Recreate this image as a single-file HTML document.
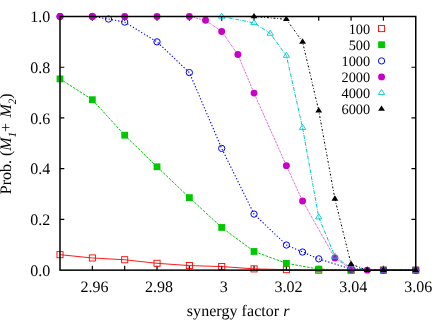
<!DOCTYPE html>
<html><head><meta charset="utf-8"><title>plot</title>
<style>
html,body{margin:0;padding:0;background:#fff;}
body{width:436px;height:322px;overflow:hidden;}
svg{display:block;will-change:transform;}
text{text-rendering:geometricPrecision;font-family:"Liberation Serif","Times New Roman",serif;fill:#000;}
</style></head><body>
<svg width="436" height="322" viewBox="0 0 436 322">
<rect width="436" height="322" fill="#fff"/>

<path d="M92.34 270.15v-4.3M92.34 16.5v4.3M124.68 270.15v-4.3M124.68 16.5v4.3M157.02 270.15v-4.3M157.02 16.5v4.3M189.36 270.15v-4.3M189.36 16.5v4.3M221.70 270.15v-4.3M221.70 16.5v4.3M254.05 270.15v-4.3M254.05 16.5v4.3M286.39 270.15v-4.3M286.39 16.5v4.3M318.73 270.15v-4.3M318.73 16.5v4.3M351.07 270.15v-4.3M351.07 16.5v4.3M383.41 270.15v-4.3M383.41 16.5v4.3M60.0 219.42h4.3M415.75 219.42h-4.3M60.0 168.69h4.3M415.75 168.69h-4.3M60.0 117.96h4.3M415.75 117.96h-4.3M60.0 67.23h4.3M415.75 67.23h-4.3" fill="none" stroke="#000" stroke-width="1.2"/>
<path d="M60.00 254.68 L92.34 257.97 L124.68 259.75 L157.02 263.30 L189.36 265.58 L221.70 266.55 L254.05 268.88 L286.39 269.64 L318.73 270.15 L351.07 270.15 L383.41 270.15 L415.75 270.15" fill="none" stroke="#ff0000" stroke-width="0.9"/>
<path d="M60.00 78.90 L92.34 99.70 L124.68 135.21 L157.02 166.79 L189.36 197.61 L221.70 227.46 L254.05 251.46 L286.39 263.30 L318.73 269.14 L351.07 270.15 L383.41 270.15 L415.75 270.15" fill="none" stroke="#00c800" stroke-width="1.0" stroke-dasharray="2.6,1.3"/>
<path d="M60.00 16.50 L92.34 16.50 L108.51 19.04 L124.68 22.08 L157.02 41.86 L189.36 72.56 L221.70 148.40 L254.05 214.09 L286.39 245.04 L302.56 252.01 L318.73 258.84 L351.07 269.14 L383.41 270.15 L415.75 270.15" fill="none" stroke="#0000ff" stroke-width="1.1" stroke-dasharray="1.3,1.95"/>
<path d="M60.00 16.50 L92.34 16.50 L124.68 16.50 L157.02 16.50 L189.36 16.50 L205.53 20.30 L221.70 31.47 L237.87 54.55 L254.05 93.10 L286.39 165.65 L302.56 201.03 L334.90 257.97 L351.07 269.14 L367.24 270.15 L383.41 270.15 L415.75 270.15" fill="none" stroke="#c800c8" stroke-width="1.0" stroke-dasharray="0.65,0.95"/>
<path d="M221.70 16.50 L254.05 22.84 L270.22 33.49 L286.39 55.56 L302.56 127.67 L318.73 217.21 L334.90 256.45 L351.07 268.12 L383.41 270.15 L415.75 270.15" fill="none" stroke="#00c8c8" stroke-width="1.0" stroke-dasharray="3.9,1.15,0.8,1.15"/>
<path d="M254.05 16.50 L286.39 19.29 L302.56 41.86 L318.73 110.60 L334.90 198.87 L351.07 264.14 L367.24 270.15 L383.41 270.15 L415.75 270.15" fill="none" stroke="#000000" stroke-width="1.0" stroke-dasharray="1.9,1.9,0.8,1.9"/>
<g><rect x="56.95" y="251.63" width="6.10" height="6.10" fill="none" stroke="#ff0000" stroke-width="0.9"/><rect x="89.29" y="254.92" width="6.10" height="6.10" fill="none" stroke="#ff0000" stroke-width="0.9"/><rect x="121.63" y="256.70" width="6.10" height="6.10" fill="none" stroke="#ff0000" stroke-width="0.9"/><rect x="153.97" y="260.25" width="6.10" height="6.10" fill="none" stroke="#ff0000" stroke-width="0.9"/><rect x="186.31" y="262.53" width="6.10" height="6.10" fill="none" stroke="#ff0000" stroke-width="0.9"/><rect x="218.65" y="263.50" width="6.10" height="6.10" fill="none" stroke="#ff0000" stroke-width="0.9"/><rect x="251.00" y="265.83" width="6.10" height="6.10" fill="none" stroke="#ff0000" stroke-width="0.9"/><rect x="283.34" y="266.59" width="6.10" height="6.10" fill="none" stroke="#ff0000" stroke-width="0.9"/><rect x="315.68" y="267.10" width="6.10" height="6.10" fill="none" stroke="#ff0000" stroke-width="0.9"/><rect x="348.02" y="267.10" width="6.10" height="6.10" fill="none" stroke="#ff0000" stroke-width="0.9"/><rect x="380.36" y="267.10" width="6.10" height="6.10" fill="none" stroke="#ff0000" stroke-width="0.9"/><rect x="412.70" y="267.10" width="6.10" height="6.10" fill="none" stroke="#ff0000" stroke-width="0.9"/></g>
<g><rect x="56.60" y="75.50" width="6.80" height="6.80" fill="#00c800"/><rect x="88.94" y="96.30" width="6.80" height="6.80" fill="#00c800"/><rect x="121.28" y="131.81" width="6.80" height="6.80" fill="#00c800"/><rect x="153.62" y="163.39" width="6.80" height="6.80" fill="#00c800"/><rect x="185.96" y="194.21" width="6.80" height="6.80" fill="#00c800"/><rect x="218.30" y="224.06" width="6.80" height="6.80" fill="#00c800"/><rect x="250.65" y="248.06" width="6.80" height="6.80" fill="#00c800"/><rect x="282.99" y="259.90" width="6.80" height="6.80" fill="#00c800"/><rect x="315.33" y="265.74" width="6.80" height="6.80" fill="#00c800"/><rect x="347.67" y="266.75" width="6.80" height="6.80" fill="#00c800"/><rect x="380.01" y="266.75" width="6.80" height="6.80" fill="#00c800"/><rect x="412.35" y="266.75" width="6.80" height="6.80" fill="#00c800"/></g>
<g><circle cx="60.00" cy="16.50" r="3.15" fill="none" stroke="#0000ff" stroke-width="1"/><circle cx="92.34" cy="16.50" r="3.15" fill="none" stroke="#0000ff" stroke-width="1"/><circle cx="108.51" cy="19.04" r="3.15" fill="none" stroke="#0000ff" stroke-width="1"/><circle cx="124.68" cy="22.08" r="3.15" fill="none" stroke="#0000ff" stroke-width="1"/><circle cx="157.02" cy="41.86" r="3.15" fill="none" stroke="#0000ff" stroke-width="1"/><circle cx="189.36" cy="72.56" r="3.15" fill="none" stroke="#0000ff" stroke-width="1"/><circle cx="221.70" cy="148.40" r="3.15" fill="none" stroke="#0000ff" stroke-width="1"/><circle cx="254.05" cy="214.09" r="3.15" fill="none" stroke="#0000ff" stroke-width="1"/><circle cx="286.39" cy="245.04" r="3.15" fill="none" stroke="#0000ff" stroke-width="1"/><circle cx="302.56" cy="252.01" r="3.15" fill="none" stroke="#0000ff" stroke-width="1"/><circle cx="318.73" cy="258.84" r="3.15" fill="none" stroke="#0000ff" stroke-width="1"/><circle cx="351.07" cy="269.14" r="3.15" fill="none" stroke="#0000ff" stroke-width="1"/><circle cx="383.41" cy="270.15" r="3.15" fill="none" stroke="#0000ff" stroke-width="1"/><circle cx="415.75" cy="270.15" r="3.15" fill="none" stroke="#0000ff" stroke-width="1"/></g>
<g><circle cx="60.00" cy="16.50" r="3.45" fill="#c800c8"/><circle cx="92.34" cy="16.50" r="3.45" fill="#c800c8"/><circle cx="124.68" cy="16.50" r="3.45" fill="#c800c8"/><circle cx="157.02" cy="16.50" r="3.45" fill="#c800c8"/><circle cx="189.36" cy="16.50" r="3.45" fill="#c800c8"/><circle cx="205.53" cy="20.30" r="3.45" fill="#c800c8"/><circle cx="221.70" cy="31.47" r="3.45" fill="#c800c8"/><circle cx="237.87" cy="54.55" r="3.45" fill="#c800c8"/><circle cx="254.05" cy="93.10" r="3.45" fill="#c800c8"/><circle cx="286.39" cy="165.65" r="3.45" fill="#c800c8"/><circle cx="302.56" cy="201.03" r="3.45" fill="#c800c8"/><circle cx="334.90" cy="257.97" r="3.45" fill="#c800c8"/><circle cx="351.07" cy="269.14" r="3.45" fill="#c800c8"/><circle cx="367.24" cy="270.15" r="3.45" fill="#c800c8"/><circle cx="383.41" cy="270.15" r="3.45" fill="#c800c8"/><circle cx="415.75" cy="270.15" r="3.45" fill="#c800c8"/></g>
<g><path d="M221.70 13.20L218.50 18.25L224.90 18.25Z" fill="none" stroke="#00c8c8" stroke-width="0.9"/><path d="M254.05 19.54L250.85 24.59L257.25 24.59Z" fill="none" stroke="#00c8c8" stroke-width="0.9"/><path d="M270.22 30.19L267.02 35.24L273.42 35.24Z" fill="none" stroke="#00c8c8" stroke-width="0.9"/><path d="M286.39 52.26L283.19 57.31L289.59 57.31Z" fill="none" stroke="#00c8c8" stroke-width="0.9"/><path d="M302.56 124.37L299.36 129.42L305.76 129.42Z" fill="none" stroke="#00c8c8" stroke-width="0.9"/><path d="M318.73 213.91L315.53 218.96L321.93 218.96Z" fill="none" stroke="#00c8c8" stroke-width="0.9"/><path d="M334.90 253.15L331.70 258.20L338.10 258.20Z" fill="none" stroke="#00c8c8" stroke-width="0.9"/><path d="M351.07 264.82L347.87 269.87L354.27 269.87Z" fill="none" stroke="#00c8c8" stroke-width="0.9"/><path d="M383.41 266.85L380.21 271.90L386.61 271.90Z" fill="none" stroke="#00c8c8" stroke-width="0.9"/><path d="M415.75 266.85L412.55 271.90L418.95 271.90Z" fill="none" stroke="#00c8c8" stroke-width="0.9"/></g>
<g><path d="M254.05 12.90L250.65 18.30L257.45 18.30Z" fill="#000000"/><path d="M286.39 15.69L282.99 21.09L289.79 21.09Z" fill="#000000"/><path d="M302.56 38.26L299.16 43.66L305.96 43.66Z" fill="#000000"/><path d="M318.73 107.00L315.33 112.40L322.13 112.40Z" fill="#000000"/><path d="M334.90 195.27L331.50 200.67L338.30 200.67Z" fill="#000000"/><path d="M351.07 260.54L347.67 265.94L354.47 265.94Z" fill="#000000"/><path d="M367.24 266.55L363.84 271.95L370.64 271.95Z" fill="#000000"/><path d="M383.41 266.55L380.01 271.95L386.81 271.95Z" fill="#000000"/><path d="M415.75 266.55L412.35 271.95L419.15 271.95Z" fill="#000000"/></g>
<rect x="60.0" y="16.5" width="355.75" height="253.64999999999998" fill="none" stroke="#000" stroke-width="1.5"/>
<text x="94.44" y="292.2" font-size="16" text-anchor="middle">2.96</text>
<text x="159.12" y="292.2" font-size="16" text-anchor="middle">2.98</text>
<text x="223.80" y="292.2" font-size="16" text-anchor="middle">3</text>
<text x="288.49" y="292.2" font-size="16" text-anchor="middle">3.02</text>
<text x="353.17" y="292.2" font-size="16" text-anchor="middle">3.04</text>
<text x="418.25" y="292.2" font-size="16" text-anchor="middle">3.06</text>
<text x="50.3" y="275.95" font-size="16" text-anchor="end">0.0</text>
<text x="50.3" y="225.22" font-size="16" text-anchor="end">0.2</text>
<text x="50.3" y="174.49" font-size="16" text-anchor="end">0.4</text>
<text x="50.3" y="123.76" font-size="16" text-anchor="end">0.6</text>
<text x="50.3" y="73.03" font-size="16" text-anchor="end">0.8</text>
<text x="50.3" y="22.30" font-size="16" text-anchor="end">1.0</text>
<text x="238.2" y="316.0" font-size="16" letter-spacing="0.05" text-anchor="middle">synergy factor <tspan font-style="italic">r</tspan></text>
<text transform="translate(11.4 143.8) rotate(-90)" font-size="16" text-anchor="middle">Prob. (<tspan font-style="italic">M</tspan><tspan font-style="italic" font-size="11.2" dy="4.6">1</tspan><tspan font-style="italic" dy="-4.6" dx="-1.2">+</tspan><tspan font-style="italic" dx="0.6"> M</tspan><tspan font-style="italic" font-size="11.2" dy="4.6">2</tspan><tspan dy="-4.6">)</tspan></text>
<text x="370.2" y="34.25" font-size="14.35" text-anchor="end">100</text>
<rect x="378.50" y="25.55" width="6.10" height="6.10" fill="none" stroke="#ff0000" stroke-width="0.9"/>
<text x="370.2" y="50.27" font-size="14.35" text-anchor="end">500</text>
<rect x="378.15" y="41.30" width="6.80" height="6.80" fill="#00c800"/>
<text x="370.2" y="66.29" font-size="14.35" text-anchor="end">1000</text>
<circle cx="381.55" cy="60.90" r="3.15" fill="none" stroke="#0000ff" stroke-width="1"/>
<text x="370.2" y="82.31" font-size="14.35" text-anchor="end">2000</text>
<circle cx="381.55" cy="76.90" r="3.45" fill="#c800c8"/>
<text x="370.2" y="98.33" font-size="14.35" text-anchor="end">4000</text>
<path d="M381.55 89.50L378.35 94.55L384.75 94.55Z" fill="none" stroke="#00c8c8" stroke-width="0.9"/>
<text x="370.2" y="114.35" font-size="14.35" text-anchor="end">6000</text>
<path d="M381.55 105.40L378.15 110.80L384.95 110.80Z" fill="#000000"/>
</svg></body></html>
